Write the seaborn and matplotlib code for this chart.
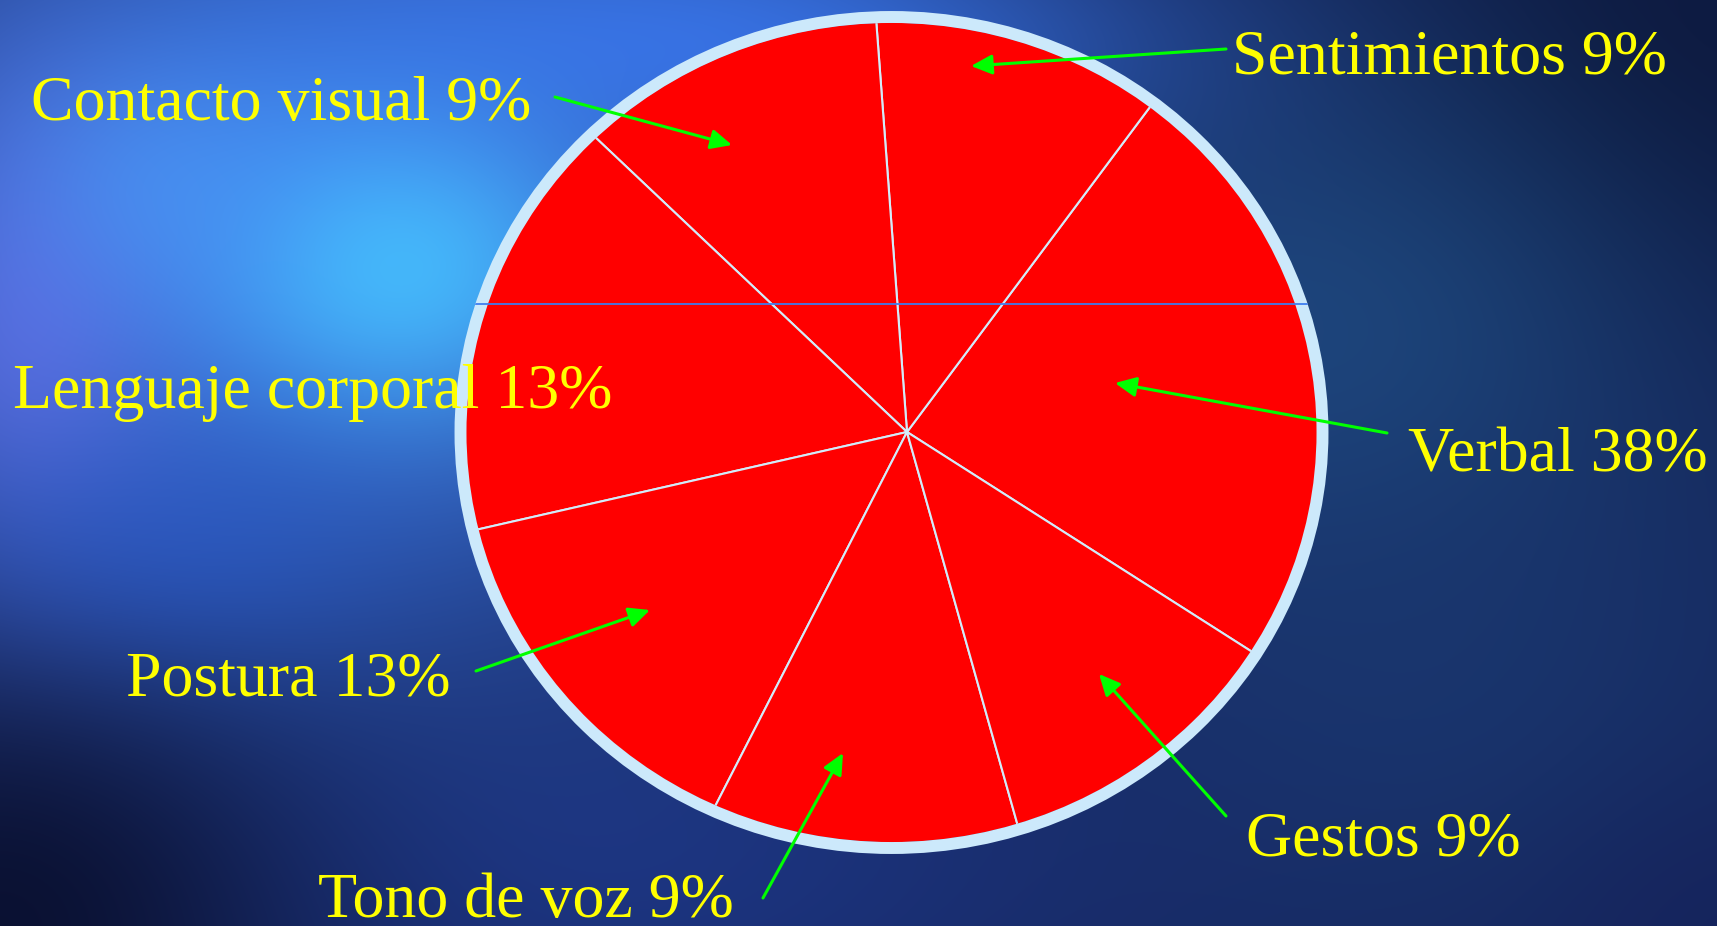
import numpy as np
import matplotlib
matplotlib.use("Agg")
import matplotlib.pyplot as plt
from matplotlib.patches import Ellipse
import seaborn as sns

# ---- data ----
categories = ["Verbal", "Sentimientos", "Contacto visual", "Lenguaje corporal",
              "Postura", "Tono de voz", "Gestos"]
percent_labels = [38, 9, 9, 13, 13, 9, 9]
# wedge shares as drawn in the picture (the drawn pie is distorted)
wedge_shares = [23.8, 11.4, 11.75, 15.6, 13.9, 11.9, 11.6]

sns.set_theme(style="white")
plt.rcParams['font.family'] = ['Liberation Serif', 'DejaVu Serif']

W, H = 1717, 926
fig = plt.figure(figsize=(W / 100, H / 100), dpi=100)
ax = fig.add_axes([0, 0, 1, 1])

# ---- background (cosmic blue gradient) ----
yy, xx = np.mgrid[0:H, 0:W].astype(float)

def hexrgb(h):
    h = h.lstrip('#')
    return np.array([int(h[i:i + 2], 16) / 255 for i in (0, 2, 4)])

img = np.ones((H, W, 3)) * hexrgb('#16275e')
blobs = [
    # (cx, cy, sx, sy, color, amp)
    (1650, 60, 380, 300, '#0b1538', 0.9),
    (1350, 330, 330, 280, '#1f4f84', 0.7),
    (1450, 700, 320, 250, '#1a3a72', 0.6),
    (600, 880, 500, 200, '#1d3688', 0.7),
    (330, 220, 560, 400, '#4280f2', 0.95),
    (700, 40, 420, 120, '#3a78f0', 0.8),
    (30, 340, 140, 260, '#6a74f0', 0.65),
    (400, 270, 180, 140, '#46c6ff', 0.8),
    (160, 180, 140, 120, '#4a9cf8', 0.5),
    (160, 560, 220, 140, '#2d62d8', 0.6),
    (0, 926, 300, 260, '#0a1030', 0.95),
    (1717, 926, 200, 160, '#15205a', 0.5),
]
for cx, cy, sx, sy, col, amp in blobs:
    w = amp * np.exp(-(((xx - cx) / sx) ** 2 + ((yy - cy) / sy) ** 2))
    img = img * (1 - w[..., None]) + hexrgb(col) * w[..., None]
ax.imshow(np.clip(img, 0, 1), extent=(0, W, 0, H), origin='upper', zorder=0)

# ---- pie ----
ell_c = (891.5, H - 432.5)
red_ell = Ellipse(ell_c, 851, 819, facecolor='#ff0000', edgecolor='none', zorder=1)
ax.add_patch(red_ell)

pie_center = (907, H - 432)
wedges, _ = ax.pie(wedge_shares, colors=sns.color_palette(['#ff0000'] * len(wedge_shares)),
                   startangle=327.5, counterclock=True, center=pie_center, radius=480,
                   wedgeprops=dict(edgecolor='#d2ecfa', linewidth=1.5), frame=True)
for wdg in wedges:
    wdg.set_zorder(2)
    wdg.set_clip_on(True)
    wdg.set_clip_path(red_ell)

border = Ellipse(ell_c, 862, 831, facecolor='none', edgecolor='#cce9fb', linewidth=8.6, zorder=3)
ax.add_patch(border)
outer_clip = Ellipse(ell_c, 874, 843, transform=ax.transData)
hl, = ax.plot([0, W], [H - 304, H - 304], color='#3f7ef0', lw=1.3, zorder=4)
hl.set_clip_path(outer_clip)

# ---- labels & arrows ----
label_pos = {
    "Sentimientos": (1232, 73),
    "Contacto visual": (31, 120),
    "Lenguaje corporal": (13, 408),
    "Verbal": (1408, 471),
    "Postura": (126, 696),
    "Gestos": (1246, 855),
    "Tono de voz": (318, 917),
}
arrows = {
    "Sentimientos": ((1226, 49), (971, 66)),
    "Contacto visual": ((555, 97), (732, 145)),
    "Verbal": ((1387, 433), (1115, 383)),
    "Postura": ((476, 671), (650, 610)),
    "Gestos": ((1226, 816), (1099, 674)),
    "Tono de voz": ((763, 898), (843, 753)),
}
for cat, pct in zip(categories, percent_labels):
    x, y = label_pos[cat]
    ax.text(x, H - y, f"{cat} {pct}%", color='#ffff00', fontsize=46,
            ha='left', va='baseline', zorder=6)
    if cat in arrows:
        (tx, ty), (hx, hy) = arrows[cat]
        ax.annotate('', xy=(hx, H - hy), xytext=(tx, H - ty),
                    arrowprops=dict(arrowstyle='-|>,head_length=0.85,head_width=0.4',
                                    color='#00ff00', lw=2.2, shrinkA=0, shrinkB=0,
                                    mutation_scale=15),
                    zorder=5)

ax.set_xlim(0, W)
ax.set_ylim(0, H)
ax.set_aspect('auto')
ax.axis('off')
fig.savefig('out.png', dpi=100)
